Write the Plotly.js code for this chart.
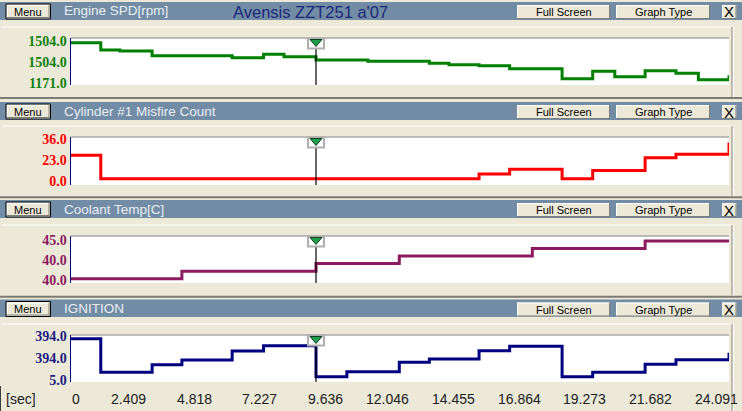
<!DOCTYPE html>
<html>
<head>
<meta charset="utf-8">
<script src="https://cdn.plot.ly/plotly-3.0.1.min.js"></script>
<style>html,body{margin:0;padding:0;background:#ECE9D8;}#chart{width:742px;height:411px;}</style>
</head>
<body>
<div id="chart"></div>
<script>
// ---- data ----
const timeSec = [0, 1.09, 1.79, 2.97, 4.06, 5.90, 7.05, 7.80, 8.97, 10.10, 10.87, 12.02, 13.12, 13.84, 14.94, 16.06, 16.89, 17.98, 19.10, 19.91, 21.02, 22.15, 22.97, 24.091];
const engineSpd = [1810, 1694, 1680, 1604, 1604, 1572, 1626, 1588, 1536, 1536, 1515, 1515, 1483, 1461, 1445, 1398, 1398, 1239, 1357, 1271, 1366, 1325, 1223, 1293];
const misfireCount = [22, 2, 2, 2, 2, 2, 2, 2, 2, 2, 2, 2, 2, 2, 6, 10, 10, 2, 9, 9, 20, 23, 23, 33];
const coolantTemp = [40, 40, 40, 40, 41, 41, 41, 41, 42, 42, 42, 43, 43, 43, 43, 43, 44, 44, 44, 44, 45, 45, 45, 45];
const ignition = [735, 141, 141, 275, 359, 518, 611, 611, 63, 152, 152, 318, 376, 376, 523, 601, 601, 63, 141, 141, 283, 364, 364, 488];

const panelTitles = ["Engine SPD[rpm]", "Cylinder #1 Misfire Count", "Coolant Temp[C]", "IGNITION"];
const yTickVals = [[1171, 1504, 1837], [0, 18, 36], [39.83, 42.48, 45.13], [5, 394, 783]];
const yTickText = [["1171.0", "1504.0", "1504.0"], ["0.0", "23.0", "36.0"], ["40.0", "40.0", "45.0"], ["5.0", "394.0", "394.0"]];
const xTickVals = [0, 2.409, 4.818, 7.227, 9.636, 12.046, 14.455, 16.864, 19.273, 21.682, 24.091];
const xTickText = ["0", "2.409", "4.818", "7.227", "9.636", "12.046", "14.455", "16.864", "19.273", "21.682", "24.091"];
const cursorTime = 8.97;
const chartTitle = "Avensis ZZT251 a'07";
const xUnit = "[sec]";

// ---- layout geometry ----
const W = 742, H = 411;
const py = p => 1 - p / H;
const pxf = p => p / W;
const series = [engineSpd, misfireCount, coolantTemp, ignition];
const colors = ["#008000", "#FF0000", "#8C1A5E", "#000080"];
const tickColors = ["#0F7F0F", "#FF0000", "#8C1A5E", "#1A1A80"];
const yRanges = [[1139.3, 1884.6], [-3.43, 37.7], [39.43, 45.66], [-30.4, 800.7]];
const plotBox = [[38, 85], [137, 185], [236, 283], [335, 382]];
const headerBox = [[2, 20], [102, 120], [200, 218], [299.5, 317]];
const frameTop = [27, 126, 225, 324];
const frameBot = [97, 196, 295, 411];
const separators = [98, 197.3, 296.8];

const data = [];
const layout = {
  width: W, height: H,
  margin: {l: 0, r: 0, t: 0, b: 0},
  paper_bgcolor: "#ECE9D8",
  plot_bgcolor: "#FFFFFF",
  showlegend: false,
  shapes: [], annotations: []
};

for (let i = 0; i < 4; i++) {
  const n = i === 0 ? "" : String(i + 1);
  data.push({
    x: timeSec, y: series[i], type: "scatter", mode: "lines",
    line: {shape: "hv", color: colors[i], width: 3},
    xaxis: "x" + n, yaxis: "y" + n, hoverinfo: "skip", cliponaxis: false
  });
  layout["xaxis" + n] = {
    domain: [pxf(71), pxf(729)], range: [0, 24.091], anchor: "y" + n,
    showgrid: false, zeroline: false, showticklabels: false, ticks: "", showline: false, fixedrange: true
  };
  layout["yaxis" + n] = {
    domain: [py(plotBox[i][1]), py(plotBox[i][0])], range: yRanges[i], anchor: "x" + n,
    showgrid: false, zeroline: false, ticks: "", showline: true, linecolor: "#000080", linewidth: 1.5,
    tickvals: yTickVals[i], ticktext: yTickText[i],
    tickfont: {family: "Liberation Serif", size: 14, color: tickColors[i], weight: "bold"},
    fixedrange: true
  };
  const xr = "x" + n;
  // header bar
  layout.shapes.push({type: "rect", xref: "paper", yref: "paper", x0: 0, x1: 1, y0: py(headerBox[i][1]), y1: py(headerBox[i][0]), fillcolor: "#728CA5", line: {width: 0}, layer: "below"});
  // frame lines
  layout.shapes.push({type: "line", xref: "paper", yref: "paper", x0: pxf(2), x1: pxf(732), y0: py(frameTop[i]), y1: py(frameTop[i]), line: {color: "#FFFFFF", width: 1}});
  layout.shapes.push({type: "line", xref: "paper", yref: "paper", x0: pxf(732), x1: pxf(732), y0: py(frameTop[i]), y1: py(frameBot[i]), line: {color: "#A09C94", width: 1.2}});
  layout.shapes.push({type: "line", xref: "paper", yref: "paper", x0: pxf(733.5), x1: pxf(733.5), y0: py(frameTop[i]), y1: py(frameBot[i]), line: {color: "#FFFFFF", width: 1}});
  // top border of plot
  layout.shapes.push({type: "line", xref: "paper", yref: "paper", x0: pxf(71), x1: pxf(729), y0: py(plotBox[i][0]), y1: py(plotBox[i][0]), line: {color: "#A8A8A8", width: 1.5}});
  // cursor line
  layout.shapes.push({type: "line", xref: xr, yref: "paper", x0: cursorTime, x1: cursorTime, y0: py(plotBox[i][1]), y1: py(plotBox[i][0] + 10), line: {color: "#000000", width: 1.2}});
  // cursor box + triangle
  layout.shapes.push({type: "rect", xref: xr, xsizemode: "pixel", xanchor: cursorTime, x0: -8, x1: 8, yref: "paper", y0: py(plotBox[i][0] + 10.5), y1: py(plotBox[i][0] + 0.5), fillcolor: "#FFFFFF", line: {color: "#B0B0B0", width: 2}});
  layout.shapes.push({type: "path", xref: xr, xsizemode: "pixel", xanchor: cursorTime, yref: "paper",
    path: "M -6," + py(plotBox[i][0] + 1.5) + " L 6," + py(plotBox[i][0] + 1.5) + " L 0," + py(plotBox[i][0] + 8.5) + " Z",
    fillcolor: "#1E9E4E", line: {color: "#14401E", width: 1}});
  // header label
  layout.annotations.push({xref: "paper", yref: "paper", x: pxf(62), y: py((headerBox[i][0] + headerBox[i][1]) / 2), xanchor: "left", yanchor: "middle", showarrow: false,
    text: panelTitles[i], font: {family: "Liberation Sans", size: 13.5, color: "#E8EEF4"}});
  // buttons
  const hb = headerBox[i];
  addButton(6, 50.5, hb[0] + 2, hb[0] + 17, "Menu", true);
  addButton(517, 610, hb[0] + 3, hb[0] + 17, "Full Screen", false);
  addButton(616, 710, hb[0] + 3, hb[0] + 17, "Graph Type", false);
  addButton(722, 736.5, hb[0] + 3, hb[0] + 17, "X", false, 15);
}

// separators
separators.forEach(s => {
  layout.shapes.push({type: "line", xref: "paper", yref: "paper", x0: 0, x1: 1, y0: py(s), y1: py(s), line: {color: "#7C7A74", width: 2}});
});
// left window edge near bottom
layout.shapes.push({type: "line", xref: "paper", yref: "paper", x0: pxf(0.5), x1: pxf(0.5), y0: 0, y1: py(386), line: {color: "#404040", width: 1}});

// title
layout.annotations.push({xref: "paper", yref: "paper", x: pxf(310), y: py(12), xanchor: "center", yanchor: "middle", showarrow: false,
  text: chartTitle, font: {family: "Liberation Sans", size: 16.5, color: "#1C2878"}});

// bottom time labels
layout.annotations.push({xref: "paper", yref: "paper", x: pxf(4), y: py(398.5), xanchor: "left", yanchor: "middle", showarrow: false,
  text: xUnit, font: {family: "Liberation Sans", size: 14, color: "#202020"}});
xTickVals.forEach((v, k) => {
  layout.annotations.push({xref: "x4", yref: "paper", x: v, y: py(398.5), xanchor: "right", xshift: 11, yanchor: "middle", showarrow: false,
    text: xTickText[k], font: {family: "Liberation Sans", size: 14, color: "#202020"}});
});

function addButton(x0, x1, y0, y1, label, isDefault, fs) {
  const S = layout.shapes;
  S.push({type: "rect", xref: "paper", yref: "paper", x0: pxf(x0), x1: pxf(x1), y0: py(y1), y1: py(y0), fillcolor: "#ECE9D8", line: {width: isDefault ? 1 : 0, color: "#000000"}});
  const o = isDefault ? 1 : 0;
  S.push({type: "line", xref: "paper", yref: "paper", x0: pxf(x0 + o), x1: pxf(x1 - o), y0: py(y0 + o + 0.5), y1: py(y0 + o + 0.5), line: {color: "#FFFFFF", width: 1}});
  S.push({type: "line", xref: "paper", yref: "paper", x0: pxf(x0 + o + 0.5), x1: pxf(x0 + o + 0.5), y0: py(y1 - o), y1: py(y0 + o), line: {color: "#FFFFFF", width: 1}});
  S.push({type: "line", xref: "paper", yref: "paper", x0: pxf(x0 + o), x1: pxf(x1 - o), y0: py(y1 - o - 0.5), y1: py(y1 - o - 0.5), line: {color: "#7F7D78", width: 1}});
  S.push({type: "line", xref: "paper", yref: "paper", x0: pxf(x1 - o - 0.5), x1: pxf(x1 - o - 0.5), y0: py(y1 - o), y1: py(y0 + o), line: {color: "#7F7D78", width: 1}});
  layout.annotations.push({xref: "paper", yref: "paper", x: pxf((x0 + x1) / 2), y: py((y0 + y1) / 2), xanchor: "center", yanchor: "middle", showarrow: false,
    text: label, font: {family: "Liberation Sans", size: fs || 11, color: "#000000"}});
}

Plotly.newPlot("chart", data, layout, {displayModeBar: false, staticPlot: true});
</script>
</body>
</html>
